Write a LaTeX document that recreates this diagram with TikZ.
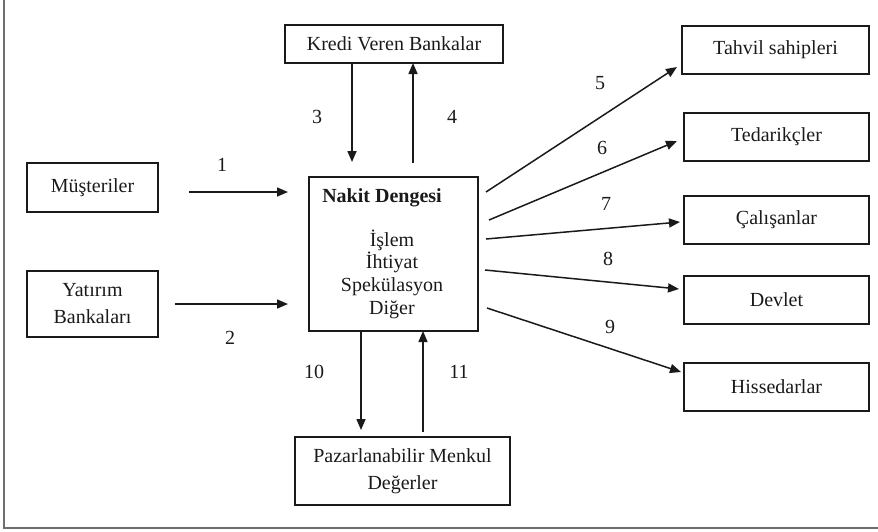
\documentclass[tikz,border=0pt]{standalone}
\usepackage{fontspec}
\setmainfont{Liberation Serif}
\usetikzlibrary{arrows.meta}
\definecolor{framegray}{HTML}{6E6E6E}
\definecolor{ink}{HTML}{1A1A1A}
\begin{document}
\begin{tikzpicture}[x=0.5pt,y=-0.5pt,
  box/.style={draw=ink, line width=0.75pt, inner sep=0pt, align=center, text=ink,
    font=\fontsize{10}{13.5}\selectfont},
  arr/.style={-{Triangle[length=5.5pt,width=4.5pt]}, line width=0.75pt, draw=ink},
  num/.style={font=\fontsize{10}{12}\selectfont, text=ink, inner sep=0pt},
  plain/.style={inner sep=0pt, align=center, text=ink}]
\useasboundingbox (0,0) rectangle (878,531);
% frame
\draw[framegray, line width=0.8pt] (4,0) -- (4,528) -- (878,528);

% boxes
\node[box, minimum width=109pt, minimum height=19pt] (kredi) at (394,44) {Kredi Veren Bankalar};
\node[box, minimum width=65.5pt, minimum height=24.5pt] (must) at (92.5,187.5) {Müşteriler};
\node[box, minimum width=65.5pt, minimum height=33pt] (yat) at (92.5,304) {Yatırım\\Bankaları};
\node[box, minimum width=84.5pt, minimum height=77pt] (nakit) at (393.5,254) {};
\node[plain, font=\fontsize{10}{12}\selectfont\bfseries] (nakitT) at (382,198) {Nakit Dengesi};
\node[plain, font=\fontsize{10}{11.35}\selectfont] (nakitL) at (392,274) {İşlem\\İhtiyat\\Spekülasyon\\Diğer};
\node[box, minimum width=93.5pt, minimum height=24pt] (tahvil) at (775.5,50) {Tahvil sahipleri};
\node[box, minimum width=92.5pt, minimum height=24pt] (ted) at (776.5,137) {Tedarikçler};
\node[box, minimum width=92.5pt, minimum height=24pt] (cal) at (776.5,220) {Çalışanlar};
\node[box, minimum width=92.5pt, minimum height=24pt] (dev) at (776.5,300) {Devlet};
\node[box, minimum width=92.5pt, minimum height=24pt] (hiss) at (776.5,387) {Hissedarlar};
\node[box, minimum width=107.5pt, minimum height=34pt] (paz) at (402.5,471) {Pazarlanabilir Menkul\\Değerler};

% arrow end points
\coordinate (a1s) at (189,192); \coordinate (a1e) at (288,192);
\coordinate (a2s) at (175,304); \coordinate (a2e) at (288,304);
\coordinate (a3s) at (352,63);  \coordinate (a3e) at (352,162);
\coordinate (a4s) at (413,163); \coordinate (a4e) at (413,63);
\coordinate (a5s) at (486,192); \coordinate (a5e) at (677,67);
\coordinate (a6s) at (489,220); \coordinate (a6e) at (677,141);
\coordinate (a7s) at (486,239); \coordinate (a7e) at (680,222);
\coordinate (a8s) at (485,270); \coordinate (a8e) at (679,289);
\coordinate (a9s) at (487,308); \coordinate (a9e) at (681,372);
\coordinate (a10s) at (361,331); \coordinate (a10e) at (361,430);
\coordinate (a11s) at (423,432); \coordinate (a11e) at (423,331);

\draw[arr] (a1s) -- (a1e);
\draw[arr] (a2s) -- (a2e);
\draw[arr] (a3s) -- (a3e);
\draw[arr] (a4s) -- (a4e);
\draw[arr] (a5s) -- (a5e);
\draw[arr] (a6s) -- (a6e);
\draw[arr] (a7s) -- (a7e);
\draw[arr] (a8s) -- (a8e);
\draw[arr] (a9s) -- (a9e);
\draw[arr] (a10s) -- (a10e);
\draw[arr] (a11s) -- (a11e);

% labels
\node[num] (n1) at (222,165) {1};
\node[num] (n2) at (230,338) {2};
\node[num] (n3) at (317,117) {3};
\node[num] (n4) at (452,117) {4};
\node[num] (n5) at (600,83) {5};
\node[num] (n6) at (602,148) {6};
\node[num] (n7) at (606,204) {7};
\node[num] (n8) at (608,259) {8};
\node[num] (n9) at (610,327) {9};
\node[num] (n10) at (314,372) {10};
\node[num] (n11) at (459,372) {11};
\end{tikzpicture}
\end{document}
